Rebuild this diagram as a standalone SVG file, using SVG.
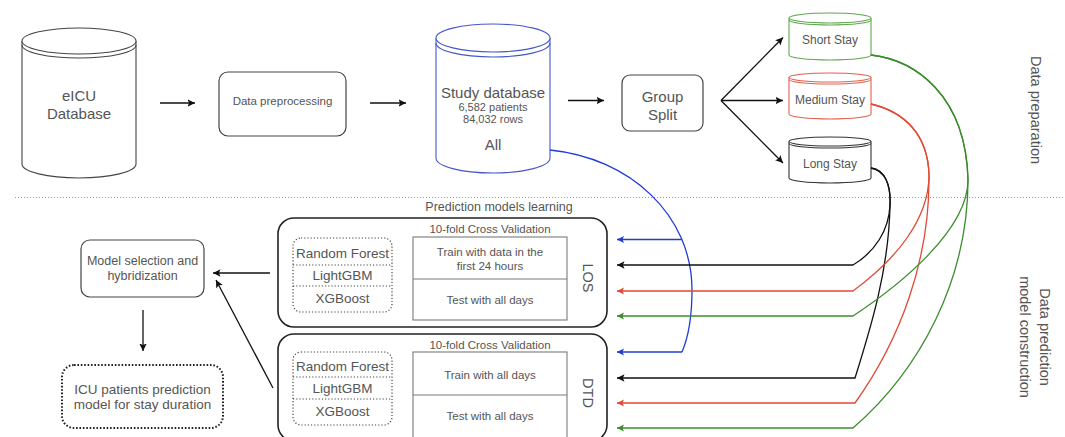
<svg xmlns="http://www.w3.org/2000/svg" width="1065" height="437" viewBox="0 0 1065 437">
  <style>
    text { font-family: "Liberation Sans", Arial, sans-serif; fill: #555; text-anchor: middle; dominant-baseline: central; }
    .box { fill: #fff; stroke: #444; stroke-width: 1.2; }
    .panel { fill: none; stroke: #222; stroke-width: 1.6; }
    .dots { fill: none; stroke: #444; stroke-width: 1.2; stroke-dasharray: 1.2 2; }
    .tbl { fill: none; stroke: #7a7a7a; stroke-width: 1.1; }
    .flow { fill: none; stroke: #111; stroke-width: 1.3; marker-end: url(#ahBlack); }
    .wire { fill: none; stroke-width: 1.3; }
    .cyl { fill: #fff; stroke-width: 1.1; }
  </style>
  <defs>
    <marker id="ahBlack" markerWidth="9" markerHeight="9" refX="7.5" refY="3.75" orient="auto" markerUnits="userSpaceOnUse">
      <path d="M0,0 L7.5,3.75 L0,7.5 L1.6,3.75 z" fill="#111"/>
    </marker>
    <marker id="ahBlue" markerWidth="8" markerHeight="8" refX="7" refY="3.5" orient="auto" markerUnits="userSpaceOnUse">
      <path d="M0,0 L7,3.5 L0,7 L1.5,3.5 z" fill="#1f3bd6"/>
    </marker>
    <marker id="ahRed" markerWidth="8" markerHeight="8" refX="7" refY="3.5" orient="auto" markerUnits="userSpaceOnUse">
      <path d="M0,0 L7,3.5 L0,7 L1.5,3.5 z" fill="#e04a36"/>
    </marker>
    <marker id="ahGreen" markerWidth="8" markerHeight="8" refX="7" refY="3.5" orient="auto" markerUnits="userSpaceOnUse">
      <path d="M0,0 L7,3.5 L0,7 L1.5,3.5 z" fill="#3b8c2c"/>
    </marker>
  </defs>

  <rect width="1065" height="437" fill="#fff"/>

  <!-- section divider -->
  <line x1="15" y1="197.5" x2="1065" y2="197.5" stroke="#999" stroke-width="1" stroke-dasharray="1 2"/>

  <!-- eICU database -->
  <g id="eicu">
    <path class="cyl" stroke="#444" d="M22,41 L22,164 A57,14 0 0 0 136,164 L136,41"/>
    <ellipse class="cyl" stroke="#444" cx="79" cy="41" rx="57" ry="13"/>
    <path fill="none" stroke="#444" stroke-width="1.1" d="M22,45 A57,13 0 0 0 136,45"/>
    <text x="79" y="95" font-size="15">eICU</text>
    <text x="79" y="113" font-size="15">Database</text>
  </g>

  <!-- preprocessing -->
  <g id="preprocessing">
    <rect class="box" x="219" y="72" width="127" height="64" rx="9"/>
    <text x="282.5" y="101" font-size="11.5">Data preprocessing</text>
  </g>

  <!-- study database -->
  <g id="study-db">
    <path class="cyl" stroke="#4657c9" d="M436,38 L436,158 A57,15 0 0 0 550,158 L550,38"/>
    <ellipse class="cyl" stroke="#4657c9" cx="493" cy="38" rx="57" ry="14"/>
    <path fill="none" stroke="#4657c9" stroke-width="1.1" d="M436,43 A57,14 0 0 0 550,43"/>
    <text x="493" y="92" font-size="15">Study database</text>
    <text x="493" y="107" font-size="11">6,582 patients</text>
    <text x="493" y="119" font-size="11">84,032 rows</text>
    <text x="493" y="144" font-size="15">All</text>
  </g>

  <!-- group split -->
  <g id="group-split">
    <rect class="box" x="622" y="75" width="81" height="56" rx="8"/>
    <text x="662.5" y="96" font-size="15">Group</text>
    <text x="662.5" y="114" font-size="15">Split</text>
  </g>

  <!-- stay groups -->
  <g id="short-stay">
    <path class="cyl" stroke="#5fa84e" d="M789,18 L789,55 A41,5 0 0 0 871,55 L871,18"/>
    <ellipse class="cyl" stroke="#5fa84e" cx="830" cy="18" rx="41" ry="5"/>
    <path fill="none" stroke="#5fa84e" stroke-width="1.1" d="M789,20 A41,5 0 0 0 871,20"/>
    <text x="830" y="40" font-size="12">Short Stay</text>
  </g>
  <g id="medium-stay">
    <path class="cyl" stroke="#e0604c" d="M789,77.5 L789,114 A41,5 0 0 0 871,114 L871,77.5"/>
    <ellipse class="cyl" stroke="#e0604c" cx="830" cy="77.5" rx="41" ry="4.5"/>
    <path fill="none" stroke="#e0604c" stroke-width="1.1" d="M789,79.5 A41,4.5 0 0 0 871,79.5"/>
    <text x="830" y="100" font-size="12">Medium Stay</text>
  </g>
  <g id="long-stay">
    <path class="cyl" stroke="#333" d="M789,141.5 L789,178 A41,5 0 0 0 871,178 L871,141.5"/>
    <ellipse class="cyl" stroke="#333" stroke-width="1.4" cx="830" cy="141.5" rx="41" ry="4.5"/>
    <path fill="none" stroke="#333" stroke-width="1.1" d="M789,143.5 A41,4.5 0 0 0 871,143.5"/>
    <text x="830" y="164" font-size="12">Long Stay</text>
  </g>

  <!-- section labels -->
  <g id="section-labels">
    <text transform="translate(1036,110) rotate(90)" font-size="14.5">Data preparation</text>
    <text transform="translate(1045,337) rotate(90)" font-size="14.5">Data prediction</text>
    <text transform="translate(1025,337) rotate(90)" font-size="14.5">model construction</text>
    <text x="499" y="207" font-size="12.5">Prediction models learning</text>
  </g>

  <!-- LOS model panel -->
  <g id="los-panel">
    <rect class="panel" x="278" y="218" width="329" height="109" rx="16"/>
    <rect class="dots" x="293" y="238" width="99" height="74" rx="8"/>
    <line class="dots" x1="293" y1="265" x2="392" y2="265"/>
    <line class="dots" x1="293" y1="286" x2="392" y2="286"/>
    <text x="342.5" y="253" font-size="13.5">Random Forest</text>
    <text x="342.5" y="275.5" font-size="13.5">LightGBM</text>
    <text x="342.5" y="298" font-size="13.5">XGBoost</text>
    <text x="490" y="228.5" font-size="11.5">10-fold Cross Validation</text>
    <rect class="tbl" x="413" y="237" width="154" height="83"/>
    <line class="tbl" x1="413" y1="279" x2="567" y2="279"/>
    <text x="490" y="252" font-size="11.5">Train with data in the</text>
    <text x="490" y="266" font-size="11.5">first 24 hours</text>
    <text x="490" y="299.5" font-size="11.5">Test with all days</text>
    <text transform="translate(588,278) rotate(90)" font-size="14.5">LOS</text>
  </g>

  <!-- DTD model panel -->
  <g id="dtd-panel">
    <rect class="panel" x="278" y="334" width="329" height="107" rx="16"/>
    <rect class="dots" x="293" y="352" width="99" height="73" rx="8"/>
    <line class="dots" x1="293" y1="377" x2="392" y2="377"/>
    <line class="dots" x1="293" y1="399" x2="392" y2="399"/>
    <text x="342.5" y="366" font-size="13.5">Random Forest</text>
    <text x="342.5" y="388.5" font-size="13.5">LightGBM</text>
    <text x="342.5" y="411" font-size="13.5">XGBoost</text>
    <text x="490" y="344.5" font-size="11.5">10-fold Cross Validation</text>
    <rect class="tbl" x="413" y="352" width="154" height="90"/>
    <line class="tbl" x1="413" y1="395" x2="567" y2="395"/>
    <text x="490" y="374.5" font-size="11.5">Train with all days</text>
    <text x="490" y="416" font-size="11.5">Test with all days</text>
    <text transform="translate(588,393) rotate(90)" font-size="14.5">DTD</text>
  </g>

  <!-- model selection -->
  <g id="model-selection">
    <rect class="box" x="81" y="240" width="123" height="57" rx="9"/>
    <text x="142.5" y="261" font-size="12.5">Model selection and</text>
    <text x="142.5" y="276" font-size="12.5">hybridization</text>
  </g>

  <!-- final model -->
  <g id="final-model">
    <rect x="62" y="365" width="161" height="63" rx="12" fill="#fff" stroke="#222" stroke-width="2" stroke-dasharray="1.6 1.8"/>
    <text x="142.5" y="389" font-size="13.5">ICU patients prediction</text>
    <text x="142.5" y="404.5" font-size="13.5">model for stay duration</text>
  </g>

  <!-- connectors -->
  <g id="connectors">
    <line class="flow" x1="160" y1="103" x2="195" y2="103"/>
    <line class="flow" x1="370" y1="103" x2="406" y2="103"/>
    <line class="flow" x1="568" y1="100.5" x2="604" y2="100.5"/>
    <line class="flow" x1="721" y1="100.5" x2="783" y2="37.5"/>
    <line class="flow" x1="721" y1="100.5" x2="783" y2="100.5"/>
    <line class="flow" x1="721" y1="100.5" x2="783" y2="163"/>
    <line class="flow" x1="270" y1="273" x2="213" y2="273"/>
    <line class="flow" x1="273" y1="388" x2="216" y2="280"/>
    <line class="flow" x1="143" y1="310" x2="143" y2="351"/>

    <!-- all patients feed both panels -->
    <path class="wire" stroke="#1f3bd6" d="M550,150 C630,158 692,215 692,290 C692,318 688,338 682,352"/>
    <path class="wire" stroke="#1f3bd6" marker-end="url(#ahBlue)" d="M681.5,239.5 L617,239.5"/>
    <path class="wire" stroke="#1f3bd6" marker-end="url(#ahBlue)" d="M682,352 L617,352"/>

    <!-- long stay -->
    <path class="wire" stroke="#111" marker-end="url(#ahBlack)" d="M871,168 C885,170 891,185 890,205 C889,230 875,252 853,265 L617,265"/>
    <path class="wire" stroke="#111" marker-end="url(#ahBlack)" d="M871,168 C885,170 891,185 890,205 C889,270 870,330 855,378 L617,378"/>

    <!-- medium stay -->
    <path class="wire" stroke="#e04a36" marker-end="url(#ahRed)" d="M871,104 C905,112 928,135 929,175 C929,220 895,260 853,291 L617,291"/>
    <path class="wire" stroke="#e04a36" marker-end="url(#ahRed)" d="M871,104 C905,112 928,135 929,175 C930,260 900,340 855,403 L617,403"/>

    <!-- short stay -->
    <path class="wire" stroke="#3b8c2c" marker-end="url(#ahGreen)" d="M871,55 C915,60 966,95 968,180 C968,230 900,285 853,316 L617,316"/>
    <path class="wire" stroke="#3b8c2c" marker-end="url(#ahGreen)" d="M871,55 C915,60 966,95 968,180 C968,280 920,370 853,428 L617,428"/>
  </g>
</svg>
